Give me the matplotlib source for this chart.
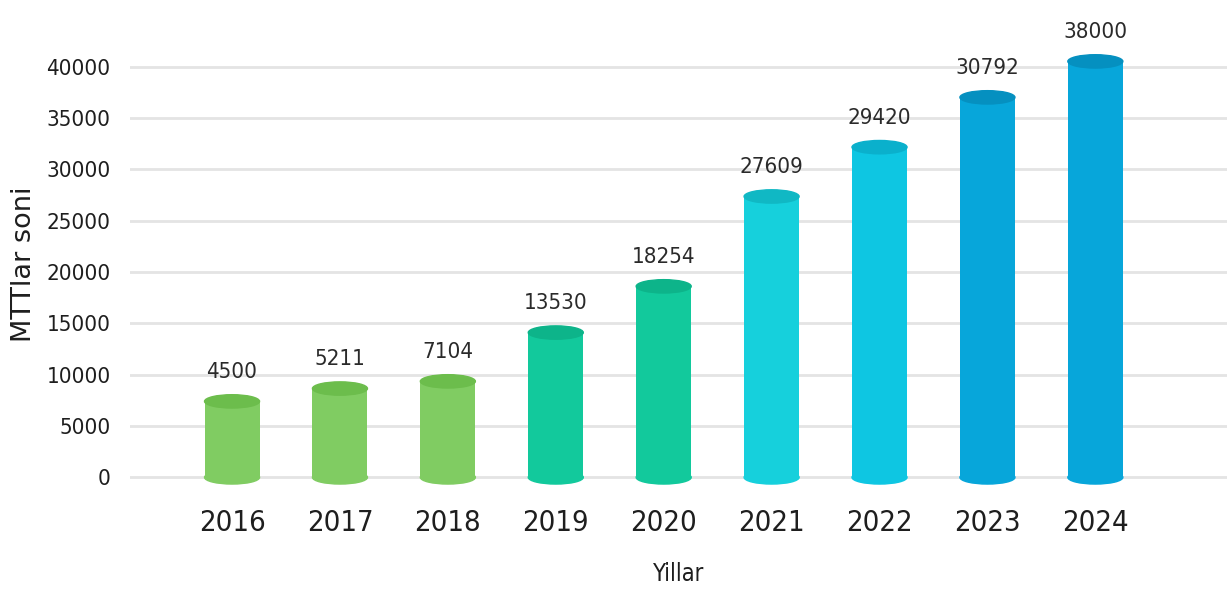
import matplotlib
matplotlib.use("Agg")
import matplotlib.pyplot as plt
from matplotlib.patches import Ellipse

years = ['2016', '2017', '2018', '2019', '2020', '2021', '2022', '2023', '2024']
# bar heights as drawn in the picture (they don't match the printed labels)
heights = [7400, 8650, 9350, 14100, 18600, 27350, 32150, 37000, 40500]
labels = ['4500', '5211', '7104', '13530', '18254', '27609', '29420', '30792', '38000']
side_colors = ['#80cc62', '#80cc62', '#80cc62', '#12c99c', '#12c99c',
               '#16d0dc', '#0ec6e2', '#07a6da', '#07a6da']
top_colors = ['#6cbd4c', '#6cbd4c', '#6cbd4c', '#0db48a', '#0db48a',
              '#10b8c4', '#0ab0cc', '#0590c0', '#0590c0']

fig = plt.figure(figsize=(12.27, 5.90), dpi=100)
ax = fig.add_axes([0.106, 0.17, 0.894, 0.813])

x = list(range(len(years)))
w = 0.51
cap = 1300  # ellipse height in data units

ax.bar(x, heights, width=w, color=side_colors, zorder=3)
for i in x:
    ax.add_patch(Ellipse((i, 0), w, cap, color=side_colors[i], zorder=3))
    ax.add_patch(Ellipse((i, heights[i]), w, cap, color=top_colors[i], zorder=4))
    ax.annotate(labels[i], (i, heights[i]), xytext=(0, 21), textcoords='offset points',
                ha='center', va='center', fontsize=16, color='#2a2a2a',
                family='DejaVu Sans', stretch='condensed')

ax.set_xlim(-0.945, 9.22)
ax.set_ylim(-1200, 45500)
ax.set_yticks(range(0, 40001, 5000))
ax.set_xticks(x)
ax.set_xticklabels(years, fontsize=21, color='#1e1e1e', stretch='condensed')
for t in ax.get_yticklabels():
    t.set_fontsize(16)
    t.set_stretch('condensed')
    t.set_color('#1e1e1e')
ax.tick_params(axis='both', length=0)
ax.tick_params(axis='x', pad=14)
ax.tick_params(axis='y', pad=14)
ax.grid(axis='y', color='#e4e4e4', linewidth=2, zorder=0)
for s in ax.spines.values():
    s.set_visible(False)

ax.set_ylabel('MTTlar soni', fontsize=19.5, color='#1e1e1e')
ax.yaxis.set_label_coords(-0.085, 0.47)
ax.set_xlabel('Yillar', fontsize=17, stretch='condensed', color='#1e1e1e', labelpad=18)

fig.savefig('out.png', dpi=100)
